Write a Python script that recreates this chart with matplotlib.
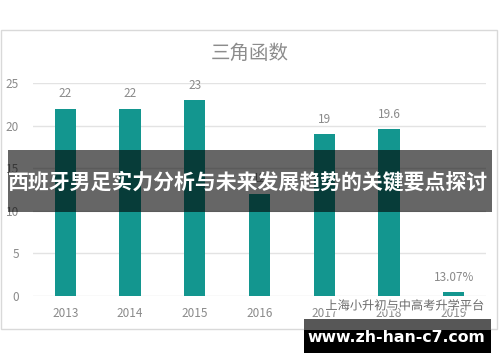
import matplotlib
matplotlib.use("Agg")
import matplotlib.pyplot as plt
from matplotlib.patches import Rectangle
import matplotlib.patheffects as pe

plt.rcParams['font.family'] = ['Noto Sans CJK SC', 'DejaVu Sans']

# ---- data ----
title = "三角函数"
categories = ["2013", "2014", "2015", "2016", "2017", "2018", "2019"]
values = [22, 22, 23, 12, 19, 19.6, 0.45]
value_labels = ["22", "22", "23", "12", "19", "19.6", "13.07%"]
yticks = [0, 5, 10, 15, 20, 25]
banner_text = "西班牙男足实力分析与未来发展趋势的关键要点探讨"
watermark_text = "上海小升初与中高考升学平台"
site_text = "www.zh-han-c7.com"

W, H = 500, 362
fig = plt.figure(figsize=(W / 100, H / 100), dpi=100)
fig.patch.set_facecolor("white")

def fx(x):
    return x / W

def fy(y):
    return 1 - y / H

# chart frame
fig.patches.append(Rectangle((fx(1), fy(329)), fx(496), (329 - 30) / H,
                             transform=fig.transFigure, fill=False,
                             edgecolor="#d9d9d9", linewidth=1.0, zorder=0))

ax = fig.add_axes([fx(33), fy(296), fx(453), (296 - 83) / H])
ax.set_facecolor("none")
x = list(range(len(categories)))
bar_color = "#13968f"
ax.bar(x, values, width=0.33, color=bar_color, zorder=3)
ax.set_xlim(-0.5, len(categories) - 0.5)
ax.set_ylim(0, 25)
ax.set_yticks(yticks)
ax.set_yticklabels([str(t) for t in yticks])
ax.set_xticks(x)
ax.set_xticklabels(categories)
for s in ax.spines.values():
    s.set_visible(False)
ax.tick_params(axis="both", length=0, colors="#8a8a8a", labelsize=8.5)
ax.tick_params(axis="y", pad=10)
ax.tick_params(axis="x", pad=8)
ax.yaxis.grid(True, color="#e3e3e3", linewidth=1.0, zorder=0)
ax.set_axisbelow(True)
for xi, v, lab in zip(x, values, value_labels):
    ax.annotate(lab, (xi, v), xytext=(0, 15), textcoords="offset pixels",
                ha="center", va="center", color="#8a8a8a", fontsize=8.5)

fig.text(fx(250), fy(53), title, ha="center", va="center",
         color="#8c8c8c", fontsize=14)

# banner overlay
fig.patches.append(Rectangle((fx(8), fy(212)), fx(484), (212 - 150) / H,
                             transform=fig.transFigure, facecolor="black",
                             alpha=0.6, edgecolor="none", zorder=10))
fig.text(fx(248), fy(182), banner_text, ha="center", va="center",
         color="white", fontsize=15, fontweight="bold", zorder=11)

# watermark
fig.text(fx(405), fy(306), watermark_text, ha="center", va="center",
         color="#6a6a6a", fontsize=8.8, zorder=12,
         path_effects=[pe.withStroke(linewidth=2, foreground="white")])

# site box
fig.patches.append(Rectangle((fx(304), fy(330)), fx(187), (330 - 319) / H,
                             transform=fig.transFigure, facecolor="#575757",
                             edgecolor="none", zorder=13))
fig.patches.append(Rectangle((fx(304), fy(353)), fx(187), (353 - 330) / H,
                             transform=fig.transFigure, facecolor="black",
                             edgecolor="none", zorder=13))
fig.text(fx(396), fy(338), site_text, ha="center", va="center",
         color="white", fontsize=11.3, fontweight="bold", zorder=14,
         family="DejaVu Sans")

fig.savefig("out.png", dpi=100)
